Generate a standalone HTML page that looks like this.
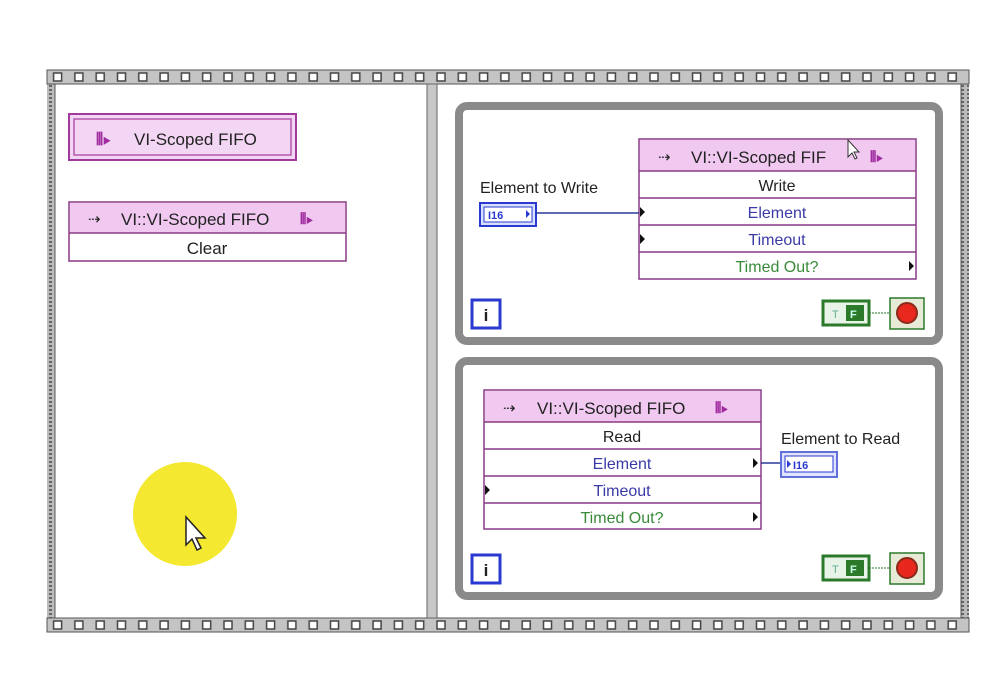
<!DOCTYPE html>
<html><head><meta charset="utf-8"><style>
body{margin:0;background:#fff;}
svg text{font-family:"Liberation Sans",sans-serif;}
</style></head><body>
<svg width="988" height="676" viewBox="0 0 988 676" xmlns="http://www.w3.org/2000/svg">
<defs>
<pattern id="film" x="5" y="0" width="21.3" height="14" patternUnits="userSpaceOnUse">
<rect x="0" y="0" width="21.3" height="14" fill="#c4c4c4"/>
<rect x="6" y="3" width="8" height="8" fill="#fff" stroke="#444" stroke-width="1.5"/>
</pattern>
<pattern id="dots" x="0" y="0" width="6" height="4" patternUnits="userSpaceOnUse">
<rect width="6" height="4" fill="#bbb"/><rect x="1" y="1" width="3" height="2" fill="#666"/>
</pattern>
</defs>
<!-- outer frame -->
<rect x="47" y="70" width="8" height="562" fill="url(#dots)"/>
<rect x="961" y="70" width="8" height="562" fill="url(#dots)"/>
<rect x="47" y="70" width="922" height="14" fill="url(#film)" stroke="#555" stroke-width="1"/>
<g transform="translate(0,548)"><rect x="47" y="70" width="922" height="14" fill="url(#film)" stroke="#555" stroke-width="1"/></g>
<line x1="55" y1="84" x2="55" y2="618" stroke="#555"/>
<line x1="961" y1="84" x2="961" y2="618" stroke="#555"/>
<!-- divider -->
<rect x="427" y="84" width="10" height="534" fill="#c8c8c8" stroke="#666" stroke-width="1"/>

<!-- loops -->
<rect x="459" y="106" width="480" height="235" rx="8" fill="none" stroke="#8a8a8a" stroke-width="8"/>
<rect x="459" y="361" width="480" height="235" rx="8" fill="none" stroke="#8a8a8a" stroke-width="8"/>

<!-- left: FIFO constant -->
<rect x="69" y="114" width="227" height="46" fill="#f3d6f3" stroke="#a23a9e" stroke-width="2"/>
<rect x="74" y="119" width="217" height="36" fill="none" stroke="#b458b0" stroke-width="1.5"/>
<text x="96" y="145" font-size="17" fill="#a02ca0" font-weight="bold">⫴▸</text>
<text x="134" y="145" font-size="17" fill="#222">VI-Scoped FIFO</text>

<!-- Clear node -->
<rect x="69" y="202" width="277" height="59" fill="#fff" stroke="#8a3a86" stroke-width="1.5"/>
<rect x="70" y="203" width="275" height="30" fill="#f0c8f0"/>
<line x1="69" y1="233" x2="346" y2="233" stroke="#8a3a86" stroke-width="1.5"/>
<text x="88" y="224" font-size="15" fill="#222">⇢</text>
<text x="121" y="225" font-size="17" fill="#222">VI::VI-Scoped FIFO</text>
<text x="300" y="224" font-size="15" fill="#a02ca0" font-weight="bold">⫴▸</text>
<text x="207" y="254" font-size="17" fill="#222" text-anchor="middle">Clear</text>

<!-- Write node -->
<rect x="639" y="139" width="277" height="140" fill="#fff" stroke="#8a3a86" stroke-width="1.5"/>
<rect x="640" y="140" width="275" height="31" fill="#f0c8f0"/>
<g stroke="#8a3a86" stroke-width="1.5"><line x1="639" y1="171" x2="916" y2="171"/><line x1="639" y1="198" x2="916" y2="198"/><line x1="639" y1="225" x2="916" y2="225"/><line x1="639" y1="252" x2="916" y2="252"/></g>
<text x="658" y="162" font-size="15" fill="#222">⇢</text>
<text x="691" y="163" font-size="17" fill="#222">VI::VI-Scoped FIF</text>
<text x="870" y="162" font-size="15" fill="#a02ca0" font-weight="bold">⫴▸</text>
<text x="777" y="191" font-size="16" fill="#222" text-anchor="middle">Write</text>
<text x="777" y="218" font-size="16" fill="#3a3aa8" text-anchor="middle">Element</text>
<text x="777" y="245" font-size="16" fill="#3a3aa8" text-anchor="middle">Timeout</text>
<text x="777" y="272" font-size="16" fill="#3a8a3a" text-anchor="middle">Timed Out?</text>
<path d="M640 207 l5 5 l-5 5z M640 234 l5 5 l-5 5z M909 261 l5 5 l-5 5z" fill="#111"/>

<!-- Element to Write -->
<text x="480" y="193" font-size="16" fill="#222">Element to Write</text>
<rect x="480" y="203" width="56" height="23" fill="#d8e0ff" stroke="#2a3ad0" stroke-width="2"/>
<rect x="484" y="207" width="48" height="15" fill="#fff" stroke="#2a3ad0" stroke-width="1"/>
<text x="488" y="219" font-size="11" font-weight="bold" fill="#2a3ad0" font-family="Liberation Serif">I16</text>
<path d="M526 210 l4 4 l-4 4z" fill="#2a3ad0"/>
<line x1="536" y1="213" x2="639" y2="213" stroke="#2a3a9a" stroke-width="1.5"/>

<!-- i + stop (loop 1) -->
<rect x="472" y="300" width="28" height="28" fill="#fff" stroke="#2a3ad0" stroke-width="3"/>
<text x="486" y="321" font-size="17" font-weight="bold" fill="#222" text-anchor="middle">i</text>
<rect x="823" y="301" width="46" height="24" fill="#e8f4e8" stroke="#2a7a2a" stroke-width="3"/>
<text x="832" y="318" font-size="11" fill="#6a9" >T</text>
<rect x="846" y="305" width="18" height="16" fill="#2a7a2a"/><text x="850" y="318" font-size="11" fill="#cfe" font-weight="bold">F</text>
<line x1="869" y1="313" x2="890" y2="313" stroke="#2a7a2a" stroke-dasharray="2,1"/>
<rect x="890" y="298" width="34" height="31" fill="#e8ead8" stroke="#2a7a2a" stroke-width="1.5"/>
<circle cx="907" cy="313" r="10" fill="#e8281c" stroke="#8a2a1a" stroke-width="2"/>

<!-- Read node -->
<rect x="484" y="390" width="277" height="139" fill="#fff" stroke="#8a3a86" stroke-width="1.5"/>
<rect x="485" y="391" width="275" height="31" fill="#f0c8f0"/>
<g stroke="#8a3a86" stroke-width="1.5"><line x1="484" y1="422" x2="761" y2="422"/><line x1="484" y1="449" x2="761" y2="449"/><line x1="484" y1="476" x2="761" y2="476"/><line x1="484" y1="503" x2="761" y2="503"/></g>
<text x="503" y="413" font-size="15" fill="#222">⇢</text>
<text x="537" y="414" font-size="17" fill="#222">VI::VI-Scoped FIFO</text>
<text x="715" y="413" font-size="15" fill="#a02ca0" font-weight="bold">⫴▸</text>
<text x="622" y="442" font-size="16" fill="#222" text-anchor="middle">Read</text>
<text x="622" y="469" font-size="16" fill="#3a3aa8" text-anchor="middle">Element</text>
<text x="622" y="496" font-size="16" fill="#3a3aa8" text-anchor="middle">Timeout</text>
<text x="622" y="523" font-size="16" fill="#3a8a3a" text-anchor="middle">Timed Out?</text>
<path d="M753 458 l5 5 l-5 5z M485 485 l5 5 l-5 5z M753 512 l5 5 l-5 5z" fill="#111"/>
<line x1="761" y1="463" x2="782" y2="463" stroke="#2a3a9a" stroke-width="1.5"/>
<text x="781" y="444" font-size="16" fill="#222">Element to Read</text>
<rect x="781" y="452" width="56" height="25" fill="#e0e4ff" stroke="#6070d8" stroke-width="2"/>
<rect x="785" y="456" width="48" height="16" fill="#fff" stroke="#2a3ad0" stroke-width="1"/>
<path d="M787 460 l4 4 l-4 4z" fill="#2a3ad0"/>
<text x="793" y="469" font-size="11" font-weight="bold" fill="#2a3ad0" font-family="Liberation Serif">I16</text>

<rect x="472" y="555" width="28" height="28" fill="#fff" stroke="#2a3ad0" stroke-width="3"/>
<text x="486" y="576" font-size="17" font-weight="bold" fill="#222" text-anchor="middle">i</text>
<rect x="823" y="556" width="46" height="24" fill="#e8f4e8" stroke="#2a7a2a" stroke-width="3"/>
<text x="832" y="573" font-size="11" fill="#6a9">T</text>
<rect x="846" y="560" width="18" height="16" fill="#2a7a2a"/><text x="850" y="573" font-size="11" fill="#cfe" font-weight="bold">F</text>
<line x1="869" y1="568" x2="890" y2="568" stroke="#2a7a2a" stroke-dasharray="2,1"/>
<rect x="890" y="553" width="34" height="31" fill="#e8ead8" stroke="#2a7a2a" stroke-width="1.5"/>
<circle cx="907" cy="568" r="10" fill="#e8281c" stroke="#8a2a1a" stroke-width="2"/>

<!-- cursor in write node -->
<path d="M848 140 l0 17 l4 -4 l3 6 l2 -1 l-3 -6 l5 0z" fill="#fff" stroke="#333" stroke-width="1"/>

<!-- yellow highlight + cursor -->
<circle cx="185" cy="514" r="52" fill="#f4e830"/>
<path d="M186 517 l0 28 l6 -6 l5 11 l4 -2 l-5 -10 l9 0z" fill="#fff" stroke="#222" stroke-width="1.5"/>
</svg>
</body></html>
